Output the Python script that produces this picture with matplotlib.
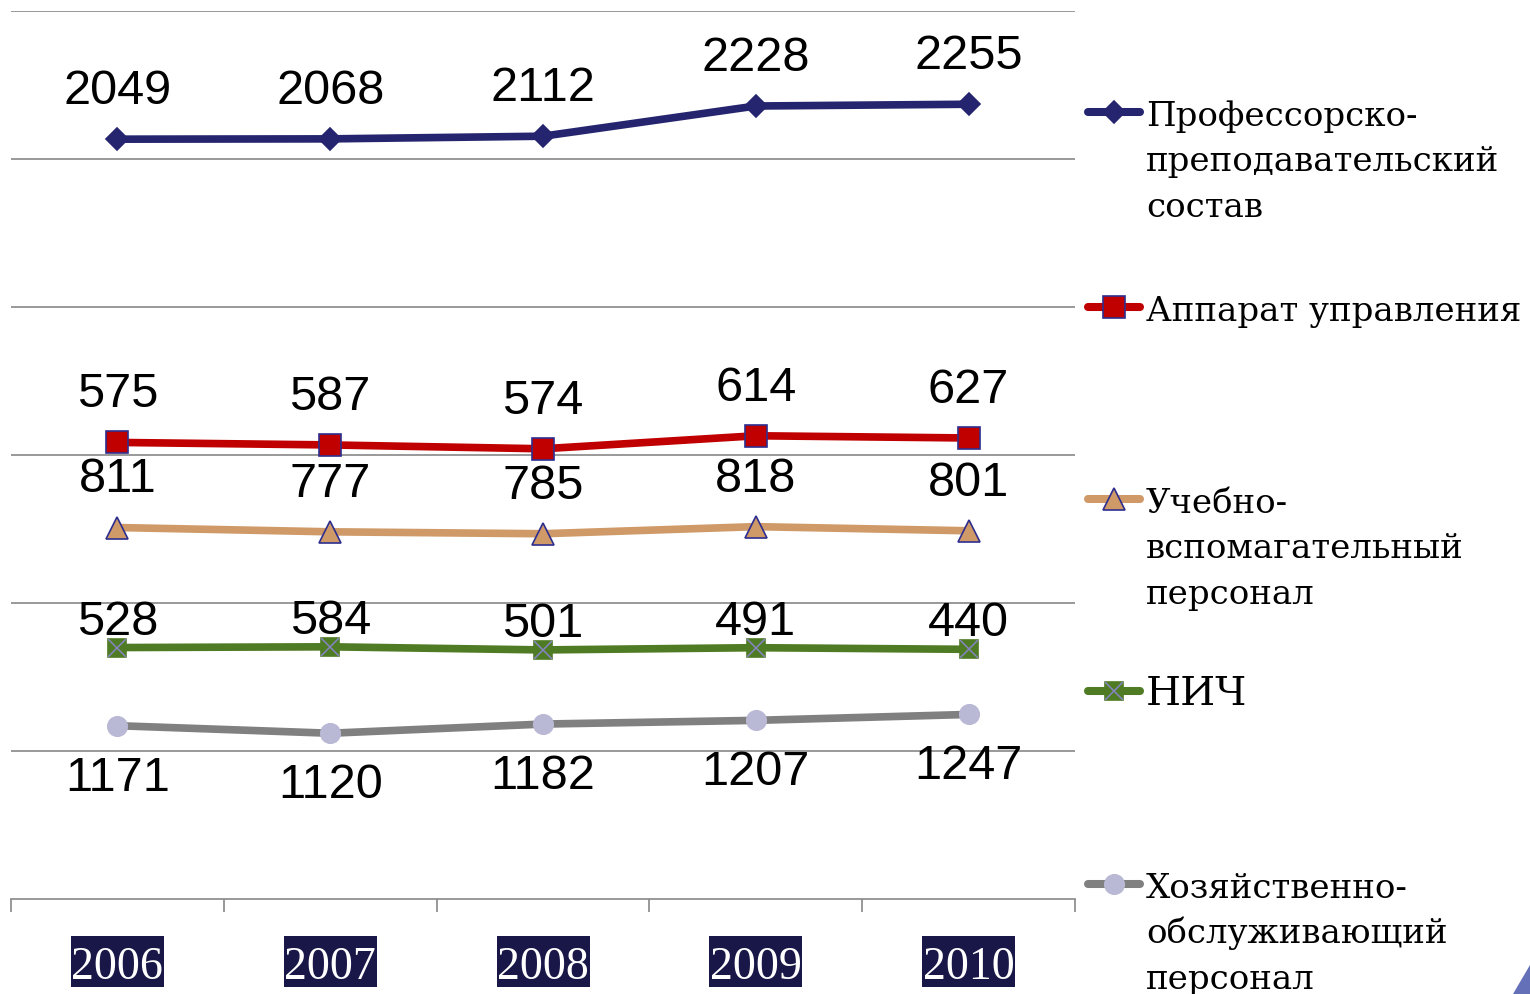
import matplotlib
matplotlib.use('Agg')
import matplotlib.pyplot as plt
from matplotlib.patches import Polygon, Rectangle
from matplotlib.transforms import blended_transform_factory
import numpy as np

# Staff numbers by category, 2006-2010
years = ['2006', '2007', '2008', '2009', '2010']
pps = [2049, 2068, 2112, 2228, 2255]    # Профессорско-преподавательский состав
aup = [575, 587, 574, 614, 627]         # Аппарат управления
uvp = [811, 777, 785, 818, 801]         # Учебно-вспомагательный персонал
nich = [528, 584, 501, 491, 440]        # НИЧ
hop = [1171, 1120, 1182, 1207, 1247]    # Хозяйственно-обслуживающий персонал

W, H = 1530, 995
fig = plt.figure(figsize=(W / 100, H / 100), dpi=100)
fig.patch.set_facecolor('white')

ax = fig.add_axes([11 / W, 1 - 900 / H, 1064 / W, 888 / H])
x = np.arange(len(years))

# stacked lines, bottom to top
stack = [
    # values, line colour, marker, face, edge, marker size, label offset (pt)
    (hop, '#808080', 'o', '#b9b9d5', '#b9b9d5', 14, -37),
    (nich, '#4f7b24', 's', '#4f7b24', '#4f7b24', 12.5, 19),
    (uvp, '#cf9a68', '^', '#cf9a68', '#2e2e8f', 16, 35),
    (aup, '#c00000', 's', '#c00000', '#2e2e8f', 16, 35),
    (pps, '#25256f', 'D', '#25256f', '#25256f', 11.5, 35),
]

base = np.zeros(len(years))
for vals, col, mk, face, edge, ms, off in stack:
    top = base + np.array(vals)
    ax.plot(x, top, color=col, lw=5.5, marker=mk, markersize=ms,
            markerfacecolor=face, markeredgecolor=edge, markeredgewidth=1.2,
            solid_capstyle='round', zorder=3)
    if vals is nich:
        ax.plot(x, top, ls='none', marker='x', markersize=12.5,
                markeredgecolor='#8585c2', markeredgewidth=1.1, zorder=4)
    for xi, yi, v in zip(x, top, vals):
        ax.annotate(str(v), (xi, yi), xytext=(0, off), textcoords='offset points',
                    ha='center', va='center', fontsize=35,
                    family='Liberation Sans', color='black', zorder=5)
    base = top

ax.set_xlim(-0.5, 4.5)
ax.set_ylim(0, 6000)
ax.set_yticks(np.arange(1000, 6001, 1000))
ax.yaxis.grid(True, color='#888888', lw=1.2)
ax.set_axisbelow(True)
ax.tick_params(axis='y', left=False, labelleft=False)
for s in ['left', 'right', 'top']:
    ax.spines[s].set_visible(False)
ax.spines['bottom'].set_color('#888888')
ax.spines['bottom'].set_linewidth(1.2)

ax.set_xticks(x)
ax.set_xticklabels(years, family='Liberation Serif', fontsize=33, color='white')
ax.set_xticks(np.arange(-0.5, 5, 1), minor=True)
ax.tick_params(axis='x', which='major', length=0, pad=33.5)
ax.tick_params(axis='x', which='minor', length=9, width=1.2, color='#888888', direction='out')

# navy boxes behind the year labels
box_trans = blended_transform_factory(ax.transData, fig.transFigure)
for xi in x:
    ax.add_patch(Rectangle((xi - 0.218, 1 - 988 / H), 0.437, 51 / H,
                           transform=box_trans, facecolor='#191747',
                           edgecolor='none', clip_on=False, zorder=0))

# legend drawn in pixel coordinates on an overlay
lax = fig.add_axes([0, 0, 1, 1])
lax.set_xlim(0, W)
lax.set_ylim(H, 0)
lax.axis('off')

legend_items = [
    ('Профессорско-\nпреподавательский\nсостав', 113, '#25256f', 'D', '#25256f', '#25256f', 11.5, 24.5),
    ('Аппарат управления', 308, '#c00000', 's', '#c00000', '#2e2e8f', 16, 24.5),
    ('Учебно-\nвспомагательный\nперсонал', 500, '#cf9a68', '^', '#cf9a68', '#2e2e8f', 16, 24.5),
    ('НИЧ', 692, '#4f7b24', 's', '#4f7b24', '#4f7b24', 12.5, 29),
    ('Хозяйственно-\nобслуживающий\nперсонал', 885, '#808080', 'o', '#b9b9d5', '#b9b9d5', 14, 24.5),
]
for text, ly, col, mk, face, edge, ms, fs in legend_items:
    lax.plot([1088, 1140], [ly, ly], color=col, lw=5.8, solid_capstyle='round')
    lax.plot([1114], [ly], marker=mk, markersize=ms, markerfacecolor=face,
             markeredgecolor=edge, markeredgewidth=1.2, ls='none')
    if mk == 's' and col == '#4f7b24':
        lax.plot([1114], [ly], marker='x', markersize=12.5, markeredgecolor='#8585c2',
                 markeredgewidth=1.1, ls='none')
    for i, part in enumerate(text.split('\n')):
        lax.text(1146, ly + 13 + i * 45.5, part, ha='left', va='baseline',
                 fontsize=fs, family='DejaVu Serif', color='black')

# corner decoration
lax.add_patch(Polygon([[1513, 995], [1530, 966], [1530, 995]], closed=True,
                      facecolor='#6470b8', edgecolor='none'))

fig.savefig('out.png', dpi=100, facecolor='white')
